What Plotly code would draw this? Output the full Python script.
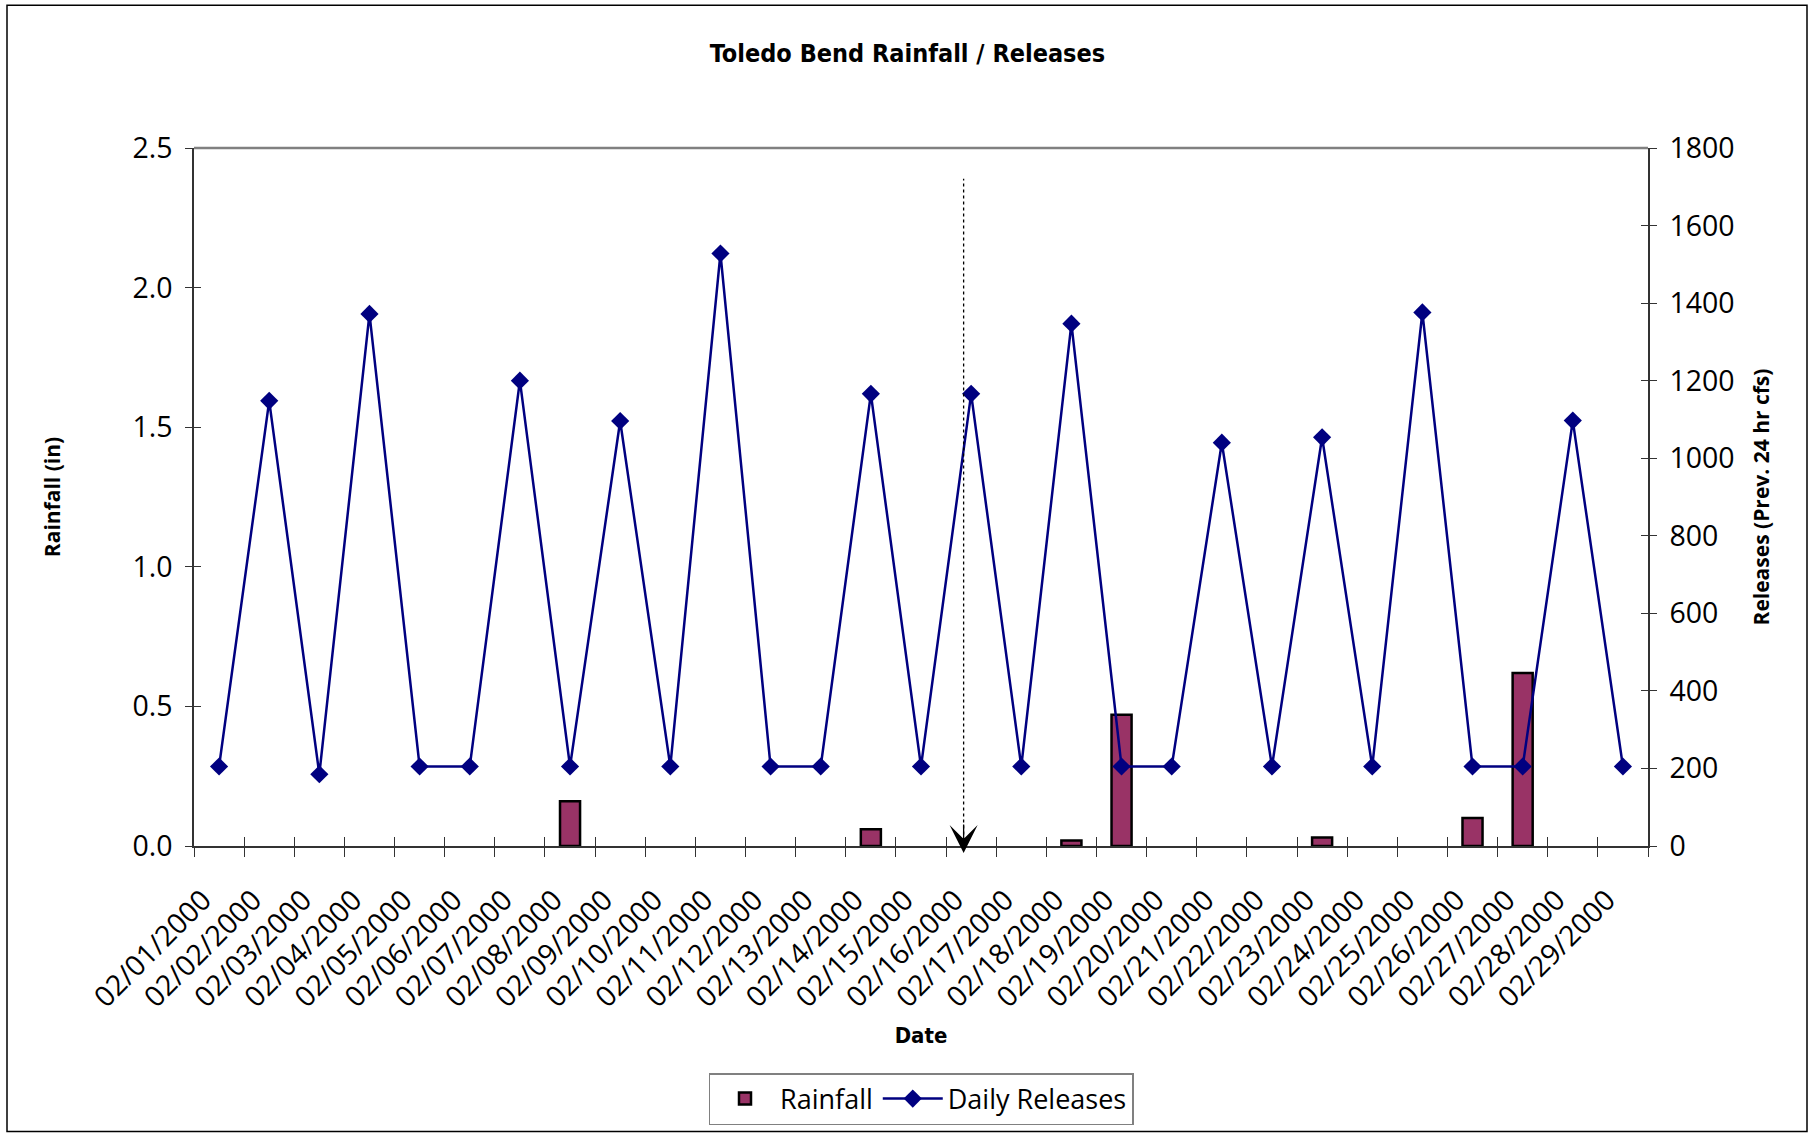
import numpy as np
import plotly.graph_objects as go

# ---------------- data ----------------
dates = ["02/01/2000", "02/02/2000", "02/03/2000", "02/04/2000", "02/05/2000",
         "02/06/2000", "02/07/2000", "02/08/2000", "02/09/2000", "02/10/2000",
         "02/11/2000", "02/12/2000", "02/13/2000", "02/14/2000", "02/15/2000",
         "02/16/2000", "02/17/2000", "02/18/2000", "02/19/2000", "02/20/2000",
         "02/21/2000", "02/22/2000", "02/23/2000", "02/24/2000", "02/25/2000",
         "02/26/2000", "02/27/2000", "02/28/2000", "02/29/2000"]

rainfall_in = [0, 0, 0, 0, 0, 0, 0, 0.16, 0, 0,
               0, 0, 0, 0.06, 0, 0, 0, 0.02, 0.47, 0,
               0, 0, 0.03, 0, 0, 0.10, 0.62, 0, 0]

releases_cfs = [205, 1148, 185, 1372, 205, 205, 1200, 205, 1096, 205,
                1528, 205, 205, 1166, 205, 1166, 205, 1347, 205, 205,
                1040, 205, 1054, 205, 1376, 205, 205, 1097, 205]

left_ticks = [0.0, 0.5, 1.0, 1.5, 2.0, 2.5]
right_ticks = [0, 200, 400, 600, 800, 1000, 1200, 1400, 1600, 1800]

# "today" marker (dotted arrow) position on category index axis and its top (left-axis units)
marker_x = 14.85
marker_top = 2.39

# ---------------- styling ----------------
W, H = 1815, 1135
ML, MR, MT, MB = 194, 167, 148, 288
TICK_FONT = dict(family="Open Sans", size=28.5, color="black")
AX_TITLE_FONT = dict(family="Open Sans", size=21, color="black")
NARROW_BOLD = "DejaVu Sans Condensed, Roboto, sans-serif"
AX_COLOR = "#333333"

# zero-rain days draw no bar
rain_bars = [v if v > 0 else None for v in rainfall_in]

fig = go.Figure()

fig.add_trace(go.Bar(
    x=dates, y=rain_bars, name="Rainfall",
    marker=dict(color="#993366", line=dict(color="black", width=2.5)),
    yaxis="y", xaxis="x",
))

fig.add_trace(go.Scatter(
    x=dates, y=releases_cfs, name="Daily Releases", mode="lines+markers",
    line=dict(color="#000080", width=2.5),
    marker=dict(symbol="diamond", size=14, color="#000080"),
    yaxis="y2", xaxis="x",
))

# empty helper traces so the overlay tick axes (crossing tick marks) are rendered
fig.add_trace(go.Scatter(x=[None], y=[None], xaxis="x2", yaxis="y3",
                         showlegend=False, hoverinfo="skip"))
fig.add_trace(go.Scatter(x=[None], y=[None], xaxis="x2", yaxis="y4",
                         showlegend=False, hoverinfo="skip"))

n = len(dates)
boundaries = np.arange(n + 1) - 0.5

fig.update_layout(
    width=W, height=H,
    margin=dict(l=ML, r=MR, t=MT, b=MB),
    paper_bgcolor="white", plot_bgcolor="white",
    bargap=0.6,
    showlegend=True,
    title=dict(
        text="<b>Toledo Bend Rainfall / Releases</b>",
        font=dict(family=NARROW_BOLD, size=25, color="black"),
        x=0.5, xref="container", xanchor="center",
        y=1 - 53 / H, yref="container", yanchor="middle",
    ),
    xaxis=dict(
        type="category", range=[-0.5, n - 0.5],
        tickson="boundaries", ticks="outside", ticklen=9, tickwidth=1.2, tickcolor=AX_COLOR,
        tickangle=-45, tickfont=TICK_FONT, ticklabelstandoff=24, ticklabelshift=-16,
        showline=True, linecolor=AX_COLOR, linewidth=2,
        showgrid=False, zeroline=False,
        title=dict(text="<b>Date</b>",
                   font=dict(family=NARROW_BOLD, size=22, color="black"),
                   standoff=14),
    ),
    xaxis2=dict(
        type="linear", range=[-0.5, n - 0.5], overlaying="x", anchor="y", side="bottom",
        tickmode="array", tickvals=boundaries, ticks="inside", ticklen=9, tickwidth=1.2,
        tickcolor=AX_COLOR, showticklabels=False, showline=False, showgrid=False, zeroline=False,
    ),
    yaxis=dict(
        range=[0, 2.5], tickmode="array", tickvals=left_ticks, tickformat=".1f",
        ticks="outside", ticklen=7, tickwidth=1.2, tickcolor=AX_COLOR, tickfont=TICK_FONT,
        ticklabelstandoff=7,
        showline=True, linecolor=AX_COLOR, linewidth=1.5,
        showgrid=False, zeroline=False,
        title=dict(text="<b>Rainfall (in)</b>", font=AX_TITLE_FONT, standoff=66),
    ),
    yaxis2=dict(
        range=[0, 1800], tickmode="array", tickvals=right_ticks,
        overlaying="y", side="right", anchor="x",
        ticks="outside", ticklen=7, tickwidth=1.2, tickcolor=AX_COLOR, tickfont=TICK_FONT,
        ticklabelstandoff=7,
        showline=True, linecolor=AX_COLOR, linewidth=1.5,
        showgrid=False, zeroline=False,
        title=dict(text="<b>Releases (Prev. 24 hr cfs)</b>", font=AX_TITLE_FONT, standoff=21),
    ),
    yaxis3=dict(
        range=[0, 2.5], tickmode="array", tickvals=left_ticks, overlaying="y", side="left",
        anchor="x2", ticks="inside", ticklen=7, tickwidth=1.2, tickcolor=AX_COLOR,
        showticklabels=False, showline=False, showgrid=False, zeroline=False,
    ),
    yaxis4=dict(
        range=[0, 1800], tickmode="array", tickvals=right_ticks, overlaying="y", side="right",
        anchor="x2", ticks="inside", ticklen=7, tickwidth=1.2, tickcolor=AX_COLOR,
        showticklabels=False, showline=False, showgrid=False, zeroline=False,
    ),
    legend=dict(
        orientation="h", x=0.5, xanchor="center", y=(847 - 1125) / 699, yanchor="bottom",
        bgcolor="white", bordercolor="#808080", borderwidth=1.5,
        font=dict(family="Open Sans", size=27, color="black"),
        itemwidth=60, traceorder="normal",
    ),
)

# plot area top border (grey)
fig.add_shape(type="line", xref="paper", yref="paper", x0=0, x1=1, y0=1, y1=1,
              line=dict(color="#808080", width=2.5))

# outer chart border
pw = W - ML - MR
ph = H - MT - MB
fig.add_shape(type="rect", xref="paper", yref="paper",
              x0=(7 - ML) / pw, x1=(W - 8 - ML) / pw,
              y0=-(H - 2 - MT - ph) / ph, y1=(MT - 5) / ph + 1,
              line=dict(color="black", width=1.5), fillcolor="rgba(0,0,0,0)", layer="below")

# dotted "today" marker with arrowhead (tip just below the zero line)
fig.add_shape(type="line", xref="x2", yref="y", x0=marker_x, x1=marker_x,
              y0=0.02, y1=marker_top, line=dict(color="black", width=1.3, dash="dot"))
fig.add_annotation(x=marker_x, y=-7 / ph, xref="x2", yref="paper", ax=0, ay=-30,
                   showarrow=True, arrowhead=3, arrowsize=3.6, arrowwidth=1.3,
                   arrowcolor="black", text="")

fig.write_html("out.html", config={"displayModeBar": False},
               post_script="document.body.style.margin='0';document.body.style.overflow='hidden';")
